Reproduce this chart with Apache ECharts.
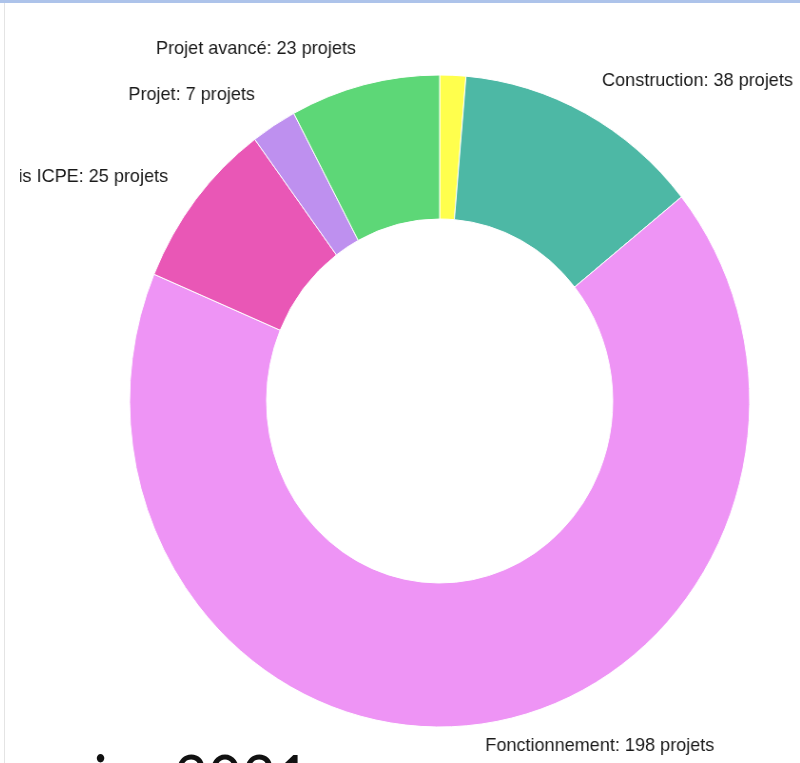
<!DOCTYPE html>
<html>
<head>
<meta charset="utf-8">
<script src="https://cdn.jsdelivr.net/npm/echarts@6/dist/echarts.min.js"></script>
<style>
  html, body { margin: 0; padding: 0; background: #fff; overflow: hidden; }
  body { width: 800px; height: 763px; position: relative; }
  #topBand { position: absolute; left: 0; top: 0; width: 800px; height: 3px; background: #adc3ea; }
  #leftBorder { position: absolute; left: 4px; top: 3px; width: 1px; height: 760px; background: #e4e4e4; }
  #clip { position: absolute; left: 20px; top: 3px; width: 780px; height: 760px; overflow: hidden; }
  /* the screenshot is squeezed horizontally, so the chart is too */
  #chart { position: absolute; left: -170px; top: -3px; width: 1050px; height: 800px;
           transform: scaleX(0.951); transform-origin: 0 0; }
  #slideDate { position: absolute; right: 490px; top: 744px; white-space: nowrap;
               font-family: Lato, "Open Sans", sans-serif; font-size: 66px; line-height: 66px; color: #111;
               transform: scaleX(0.89); transform-origin: 100% 0; }
</style>
</head>
<body>
<div id="topBand"></div>
<div id="leftBorder"></div>
<div id="clip"><div id="chart"></div></div>
<div id="slideDate">janvier 2021</div>
<script>
// slices, clockwise from 12 o'clock
const categories = ["Développement", "Construction", "Fonctionnement", "Permis ICPE", "Projet", "Projet avancé"];
const projectCounts = [4, 38, 198, 25, 7, 23];

// label tweaks
const hiddenLabels = ["Développement"];
const shortLeader = ["Fonctionnement"];

const chart = echarts.init(document.getElementById("chart"));

const pieData = categories.map((name, i) => {
  const item = { name: name, value: projectCounts[i] };
  if (hiddenLabels.includes(name)) item.label = { show: false };
  if (shortLeader.includes(name)) item.labelLine = { length: 22 };
  return item;
});

const option = {
  animation: false,
  color: ["#ffff4d", "#4db8a5", "#ee94f5", "#e957b6", "#be90ef", "#5dd777"],
  series: [
    {
      type: "pie",
      center: [620, 401],
      radius: [182, 326],
      startAngle: 90,
      clockwise: true,
      avoidLabelOverlap: false,
      itemStyle: { borderColor: "#fff", borderWidth: 1 },
      label: {
        show: true,
        position: "outside",
        formatter: "{b}: {c} projets",
        fontFamily: "Liberation Sans, Arial, sans-serif",
        fontSize: 19,
        color: "#1a1a1a",
        distanceToLabelLine: 0,
      },
      labelLine: { show: false, length: 37, length2: 0 },
      emphasis: { disabled: true },
      data: pieData,
    },
  ],
};

chart.setOption(option);
</script>
</body>
</html>
